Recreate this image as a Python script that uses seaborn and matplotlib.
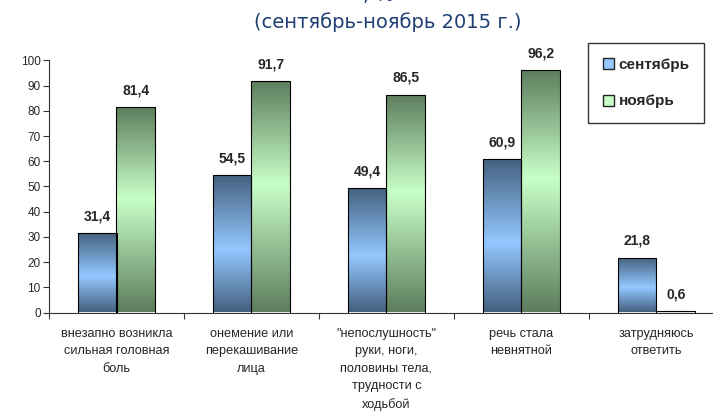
import numpy as np
import pandas as pd
import matplotlib
matplotlib.use("Agg")
import matplotlib.pyplot as plt
import seaborn as sns
from matplotlib.colors import LinearSegmentedColormap
from matplotlib.patches import Patch

categories = [
    "внезапно возникла\nсильная головная\nболь",
    "онемение или\nперекашивание\nлица",
    "\"непослушность\"\nруки, ноги,\nполовины тела,\nтрудности с\nходьбой",
    "речь стала\nневнятной",
    "затрудняюсь\nответить",
]
series_names = ["сентябрь", "ноябрь"]
september = [31.4, 54.5, 49.4, 60.9, 21.8]
november = [81.4, 91.7, 86.5, 96.2, 0.6]
title = "(сентябрь-ноябрь 2015 г.)"
title_top = ", %"

df = pd.DataFrame({
    "cat": categories * 2,
    "month": [series_names[0]] * 5 + [series_names[1]] * 5,
    "value": september + november,
})

sns.set_style("white")
plt.rcParams["font.family"] = ["Liberation Sans", "DejaVu Sans"]

fig = plt.figure(figsize=(7.13, 4.11), dpi=100)
ax = fig.add_axes([49 / 713, (411 - 312.5) / 411, 675 / 713, 252 / 411])

sns.barplot(data=df, x="cat", y="value", hue="month", order=categories,
            hue_order=series_names, width=0.57, ax=ax, legend=False,
            palette=["#94c8ff", "#c8ffc8"], edgecolor="black", linewidth=0.8)

blue_cmap = LinearSegmentedColormap.from_list(
    "b", [(0, "#44607f"), (0.55, "#94c8ff"), (1, "#44607f")])
green_cmap = LinearSegmentedColormap.from_list(
    "g", [(0, "#5d7d5d"), (0.45, "#c8ffc8"), (1, "#5d7d5d")])
grad = np.linspace(0, 1, 256).reshape(-1, 1)

for cont, cmap in zip(ax.containers, [blue_cmap, green_cmap]):
    for p in cont.patches:
        x, w, h = p.get_x(), p.get_width(), p.get_height()
        im = ax.imshow(grad, extent=[x, x + w, 0, h], aspect="auto",
                       cmap=cmap, origin="upper", zorder=1.5)
        im.set_clip_path(p)
        p.set_facecolor("none")
        p.set_zorder(2)

for cont, vals in zip(ax.containers, [september, november]):
    ax.bar_label(cont, labels=[f"{v:.1f}".replace(".", ",") for v in vals],
                 padding=7, fontsize=10, fontweight="bold")

ax.set_xlim(-0.5, 4.5)
ax.set_ylim(0, 100)
ax.set_yticks(range(0, 101, 10))
ax.set_xticks([-0.5, 0.5, 1.5, 2.5, 3.5])
ax.set_xticklabels([])
ax.set_xticks(range(5), minor=True)
ax.set_xticklabels(categories, minor=True, fontsize=9.2, linespacing=1.6,
                   va="top")
ax.tick_params(axis="x", which="minor", length=0, pad=11)
ax.tick_params(axis="x", which="major", length=4, direction="out",
               color="#333333", width=0.8, bottom=True)
ax.tick_params(axis="y", length=4, direction="out", labelsize=8.5,
               color="#333333", width=0.8, left=True, pad=2)
ax.set_xlabel("")
ax.set_ylabel("")
for s in ["top", "right"]:
    ax.spines[s].set_visible(False)
for s in ["left", "bottom"]:
    ax.spines[s].set_color("#333333")
    ax.spines[s].set_linewidth(0.8)

handles = [Patch(facecolor="#94c8ff", edgecolor="#222222", linewidth=1),
           Patch(facecolor="#c8ffc8", edgecolor="#222222", linewidth=1)]
leg = fig.legend(handles, series_names, loc="upper left",
                 bbox_to_anchor=(588 / 713, 1 - 43 / 411),
                 frameon=True, fancybox=False, edgecolor="black",
                 prop={"weight": "bold", "size": 11}, handlelength=0.75,
                 handleheight=0.75, handletextpad=0.3, labelspacing=1.5,
                 borderpad=0.95, borderaxespad=0)
leg.get_frame().set_linewidth(1.0)

fig.text(388 / 713, 1 - 28 / 411, title, ha="center", va="baseline",
         fontsize=14, color="#1f3f73", family=["DejaVu Sans"])
fig.text(378 / 713, 1 - 1 / 411, title_top, ha="center", va="baseline",
         fontsize=14, color="#1f3f73", family=["DejaVu Sans"])

fig.savefig("out.png", dpi=100)
